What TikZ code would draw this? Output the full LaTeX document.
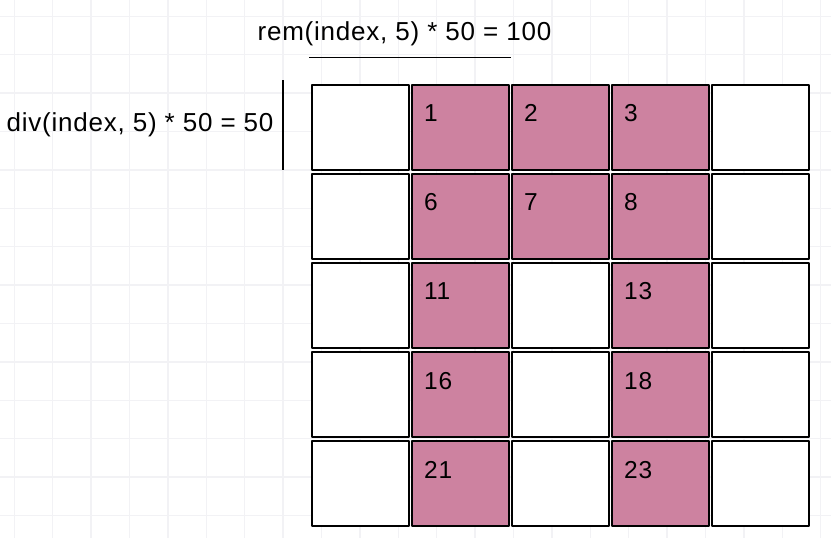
\documentclass[tikz,border=0pt]{standalone}
\usepackage{fontspec}
\setmainfont{Liberation Sans}[LetterSpace=3]
\usetikzlibrary{calc}
\definecolor{cellpink}{RGB}{205,130,160}
\definecolor{gridbg}{RGB}{242,242,245}
\begin{document}
\begin{tikzpicture}[x=1pt,y=-1pt,
  cellbox/.style={draw=black, line width=2pt, line join=round, minimum width=97pt, minimum height=85pt, inner sep=0pt, anchor=north west},
  pinkcell/.style={cellbox, fill=cellpink},
  whitecell/.style={cellbox, fill=white},
  num/.style={font=\fontsize{24.5}{28}\selectfont, anchor=base west, inner sep=0pt},
  headtext/.style={font=\fontsize{26}{30}\selectfont, anchor=base, inner sep=0pt},
  bgline/.style={draw=gridbg, line width=1.5pt},
  markline/.style={draw=black, line width=1.4pt}
]
\useasboundingbox (0,0) rectangle (831,538);
\fill[white] (0,0) rectangle (831,538);
\foreach \i in {0,...,21} { \draw[bgline] ({14.3+38.4*\i},0) -- ({14.3+38.4*\i},538); }
\foreach \j in {0,...,13} { \draw[bgline] (0,{16.3+38.4*\j}) -- (831,{16.3+38.4*\j}); }
% white cells
\foreach \r/\c in {0/0,0/4,1/0,1/4,2/0,2/2,2/4,3/0,3/2,3/4,4/0,4/2,4/4} {
  \node[whitecell] (c\r\c) at ({311+100*\c},{83.5+89.2*\r}) {};
}
% pink cells with numbers
\foreach \r/\c in {0/1,0/2,0/3,1/1,1/2,1/3,2/1,2/3,3/1,3/3,4/1,4/3} {
  \pgfmathtruncatemacro{\idx}{5*\r+\c}
  \node[pinkcell] (c\r\c) at ({311+100*\c},{83.5+89.2*\r}) {};
  \node[num] (n\r\c) at ($(c\r\c.north west)+(13,38)$) {\idx};
}
% labels
\node[headtext] (remtxt) at (404.5,40) {rem(index, 5) * 50 = 100};
\node[headtext] (divtxt) at (140,131.7) {div(index, 5) * 50 = 50};
\coordinate (ula) at (309,57.5);
\coordinate (ulb) at (511,57.5);
\coordinate (vba) at (283,80);
\coordinate (vbb) at (283,170);
\draw[markline] (ula) -- (ulb);
\draw[markline] (vba) -- (vbb);
\end{tikzpicture}
\end{document}
